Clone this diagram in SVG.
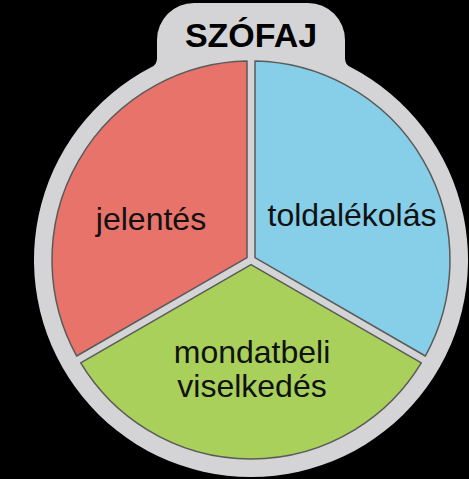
<svg xmlns="http://www.w3.org/2000/svg" width="469" height="479" viewBox="0 0 469 479">
  <style>
    .sector { stroke: #5a5a5a; stroke-width: 1.5; stroke-linejoin: round; }
    .label { font-family: "Liberation Sans", Arial, sans-serif; font-size: 32px; fill: #111111; text-anchor: middle; }
    .title { font-family: "Liberation Sans", Arial, sans-serif; font-size: 34px; font-weight: bold; fill: #000000; text-anchor: middle; }
  </style>
  <rect x="0" y="0" width="469" height="479" fill="#000000"/>
  <g id="frame">
    <path d="M 151.58,67.12 A 10 10 0 0 0 157,58.22 L 157,40 A 37 37 0 0 1 194,3 L 308,3 A 37 37 0 0 1 345,40 L 345,58.22 A 10 10 0 0 0 350.42,67.12 A 217 217 0 1 1 151.58,67.12 Z" fill="#d4d4d6"/>
    <text class="title" x="251" y="47">SZÓFAJ</text>
  </g>
  <g id="node-jelentes">
    <path class="sector" d="M 247,257.69 L 247,61.04 A 199 199 0 0 0 76.70,356.02 Z" fill="#e8736a"/>
    <text class="label" x="151" y="230">jelentés</text>
  </g>
  <g id="node-toldalekolas">
    <path class="sector" d="M 255,257.69 L 255,61.04 A 199 199 0 0 1 425.30,356.02 Z" fill="#87cee8"/>
    <text class="label" x="352" y="226">toldalékolás</text>
  </g>
  <g id="node-mondatbeli">
    <path class="sector" d="M 251,264.62 L 80.70,362.94 A 199 199 0 0 0 421.30,362.94 Z" fill="#a8d05a"/>
    <text class="label" x="252" y="363">mondatbeli</text>
    <text class="label" x="252" y="397">viselkedés</text>
  </g>
  <g id="connectors"></g>
</svg>
